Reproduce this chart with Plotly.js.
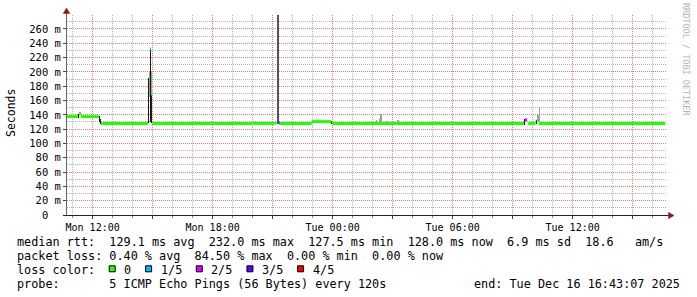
<!DOCTYPE html>
<html><head><meta charset="utf-8">
<script src="https://cdn.plot.ly/plotly-3.0.1.min.js"></script>
<style>html,body{margin:0;padding:0;background:#fff;overflow:hidden}</style>
</head><body><div id="chart" style="width:697px;height:297px"></div>
<script>
// ---------------- data ----------------
const xRange = ['2025-12-15 10:43:07', '2025-12-16 16:43:07'];

const xTickVals = ['2025-12-15 12:00','2025-12-15 15:00','2025-12-15 18:00','2025-12-15 21:00','2025-12-16 00:00',
                   '2025-12-16 03:00','2025-12-16 06:00','2025-12-16 09:00','2025-12-16 12:00','2025-12-16 15:00'];
const xTickText = ['Mon 12:00','','Mon 18:00','','Tue 00:00','','Tue 06:00','','Tue 12:00',''];

const yTickVals = [0,20,40,60,80,100,120,140,160,180,200,220,240,260];
const yTickText = ['0  ','20 m','40 m','60 m','80 m','100 m','120 m','140 m','160 m','180 m','200 m','220 m','240 m','260 m'];

// median rtt (ms), piecewise segments, with loss class (0 = 0/5 ... 4 = 4/5)
const medStart = ['2025-12-15 10:43:07','2025-12-15 11:19','2025-12-15 11:25','2025-12-15 12:25','2025-12-15 14:49',
                  '2025-12-15 14:52','2025-12-15 14:55','2025-12-15 14:59','2025-12-15 20:00','2025-12-15 21:09',
                  '2025-12-15 21:19','2025-12-15 21:22','2025-12-15 22:57','2025-12-15 23:59','2025-12-16 09:37',
                  '2025-12-16 09:46','2025-12-16 10:12','2025-12-16 10:19'];
const medEnd   = ['2025-12-15 11:16','2025-12-15 11:25','2025-12-15 12:19','2025-12-15 14:46','2025-12-15 14:52',
                  '2025-12-15 14:55','2025-12-15 14:58','2025-12-15 19:58','2025-12-15 21:09','2025-12-15 21:12',
                  '2025-12-15 21:22','2025-12-15 22:57','2025-12-15 23:56','2025-12-16 09:34','2025-12-16 09:43',
                  '2025-12-16 10:09','2025-12-16 10:18','2025-12-16 16:38'];
const medValue = [137.5,142,137.5,128,190.5,232,169,128,128,128.5,128.5,128,130.5,128,133,128,132,128];
const medLoss  = [0,0,0,0,0,1,0,0,0,1,2,0,0,0,2,0,0,0];

// smoke (spread of the pings), dark / mid / light density
const darkStart = ['2025-12-15 11:16','2025-12-15 12:19','2025-12-15 12:22','2025-12-15 14:46','2025-12-15 14:52',
                   '2025-12-15 14:56','2025-12-15 23:56','2025-12-16 09:34','2025-12-16 10:09'];
const darkEnd   = ['2025-12-15 11:19','2025-12-15 12:22','2025-12-15 12:25','2025-12-15 14:49','2025-12-15 14:55',
                   '2025-12-15 14:59','2025-12-15 23:59','2025-12-16 09:37','2025-12-16 10:12'];
const darkLow   = [136,130,127,128,130,128,127,126,127];
const darkHigh  = [141,138,134,192,233,170,131,134,133];

const midStart = ['2025-12-15 21:12'];
const midEnd   = ['2025-12-15 21:19'];
const midLow   = [127];
const midHigh  = [290];

const lightStart = ['2025-12-15 14:49','2025-12-16 02:10','2025-12-16 02:19','2025-12-16 02:22','2025-12-16 02:37',
                    '2025-12-16 03:13','2025-12-16 10:12','2025-12-16 10:18'];
const lightEnd   = ['2025-12-15 14:58','2025-12-16 02:13','2025-12-16 02:28','2025-12-16 02:28','2025-12-16 02:43',
                    '2025-12-16 03:19','2025-12-16 10:18','2025-12-16 10:21'];
const lightLow   = [165,128,128,128,128,128,132,130];
const lightHigh  = [200,133,134,141,131.5,133,140,151];

const lossLabels = ['0','1/5','2/5','3/5','4/5'];

const legendLines = [
  'median rtt:  129.1 ms avg  232.0 ms max  127.5 ms min  128.0 ms now  6.9 ms sd  18.6   am/s',
  'packet loss: 0.40 % avg  84.50 % max  0.00 % min  0.00 % now',
  'loss color:',
  'probe:       5 ICMP Echo Pings (56 Bytes) every 120s'
];
const endText = 'end: Tue Dec 16 16:43:07 2025';
const yTitle = 'Seconds';
const sideText = 'RRDTOOL / TOBI OETIKER';

// ---------------- styles ----------------
const lossColors = ['#26ff00','#00b8ff','#dd00ff','#5e00ff','#ff0000'];
const MONO = 'DejaVu Sans Mono';
const L = 67, T = 15, W = 600, H = 200;
const xp = px => (px - L) / W;
const yp = py => (T + H - py) / H;
const nb = s => s.replace(/ /g, '\u00a0');
const ms = s => Date.parse(s.replace(' ', 'T'));

// ---------------- traces ----------------
const traces = [];
function smokeTrace(st, en, lo, hi, color) {
  return {
    type: 'bar', x: st, base: lo, y: hi.map((h, i) => h - lo[i]),
    width: st.map((s, i) => ms(en[i]) - ms(s)), offset: 0,
    marker: {color: color, line: {width: 0}}, hoverinfo: 'skip', showlegend: false
  };
}
traces.push(smokeTrace(lightStart, lightEnd, lightLow, lightHigh, '#a0a0a0'));
traces.push(smokeTrace(midStart, midEnd, midLow, midHigh, '#555555'));
traces.push(smokeTrace(darkStart, darkEnd, darkLow, darkHigh, '#1a1a1a'));

for (let c = 0; c < lossColors.length; c++) {
  const xs = [], ys = [];
  medStart.forEach((s, i) => {
    if (medLoss[i] !== c) return;
    xs.push(s, medEnd[i], null);
    ys.push(medValue[i], medValue[i], null);
  });
  if (!xs.length) continue;
  traces.push({type: 'scatter', mode: 'lines', x: xs, y: ys, connectgaps: false,
    line: {color: lossColors[c], width: 3}, hoverinfo: 'skip', showlegend: false});
}

// ---------------- annotations & shapes ----------------
const annotations = [];
const shapes = [];
const lineBase = [241.6, 255.6, 269.6, 283.6];
legendLines.forEach((t, i) => {
  annotations.push({xref: 'paper', yref: 'paper', x: xp(16), y: yp(lineBase[i]), xanchor: 'left', yanchor: 'middle',
    text: nb(t), showarrow: false, borderpad: 0, font: {family: MONO, size: 11.8, color: '#000'}});
});
annotations.push({xref: 'paper', yref: 'paper', x: xp(681), y: yp(lineBase[3]), xanchor: 'right', yanchor: 'middle',
  text: nb(endText), showarrow: false, borderpad: 0, font: {family: MONO, size: 11.8, color: '#000'}});
annotations.push({xref: 'paper', yref: 'paper', x: xp(11), y: yp(113), xanchor: 'center', yanchor: 'middle',
  text: yTitle, textangle: -90, showarrow: false, borderpad: 0, font: {family: MONO, size: 11.5, color: '#000'}});
annotations.push({xref: 'paper', yref: 'paper', x: xp(686), y: yp(59), xanchor: 'center', yanchor: 'middle',
  text: nb(sideText), textangle: 90, showarrow: false, borderpad: 0, font: {family: MONO, size: 8.5, color: '#b4b4b4'}});

// loss color legend swatches
let sx = 108.7;
const adv = 7.12;
lossLabels.forEach((lab, i) => {
  shapes.push({type: 'rect', xref: 'paper', yref: 'paper', x0: xp(sx + 0.5), x1: xp(sx + 6.5), y0: yp(265.8), y1: yp(271.8),
    fillcolor: lossColors[i], line: {color: '#000', width: 1}, layer: 'above'});
  const lx = sx + 14.6;
  annotations.push({xref: 'paper', yref: 'paper', x: xp(lx), y: yp(lineBase[2]), xanchor: 'left', yanchor: 'middle',
    text: lab, showarrow: false, borderpad: 0, font: {family: MONO, size: 11.8, color: '#000'}});
  sx = lx + lab.length * adv + 14.7;
});

// axis lines and arrows
shapes.push({type: 'line', xref: 'paper', yref: 'paper', x0: xp(66.5), x1: xp(66.5), y0: yp(215.5), y1: yp(12),
  line: {color: '#666', width: 1}, layer: 'above'});
shapes.push({type: 'line', xref: 'paper', yref: 'paper', x0: xp(63), x1: xp(670), y0: yp(215.5), y1: yp(215.5),
  line: {color: '#222', width: 1}, layer: 'above'});
shapes.push({type: 'path', xref: 'paper', yref: 'paper', layer: 'above',
  path: `M ${xp(66.5)} ${yp(8)} L ${xp(69.8)} ${yp(13.5)} L ${xp(63.2)} ${yp(13.5)} Z`,
  fillcolor: '#8b1c1c', line: {color: '#8b1c1c', width: 0.5}});
shapes.push({type: 'path', xref: 'paper', yref: 'paper', layer: 'above',
  path: `M ${xp(674)} ${yp(215.5)} L ${xp(668.5)} ${yp(212.2)} L ${xp(668.5)} ${yp(218.8)} Z`,
  fillcolor: '#8b1c1c', line: {color: '#8b1c1c', width: 0.5}});

const gridMajor = '#dc8282', gridMinor = '#b4b4b4', dots = '1px,1px';
const layout = {
  width: 697, height: 297,
  margin: {l: L, r: 697 - L - W, t: T, b: 297 - T - H, pad: 0},
  paper_bgcolor: '#fff', plot_bgcolor: '#fff',
  showlegend: false, barmode: 'overlay', bargap: 0,
  font: {family: MONO, size: 10, color: '#000'},
  xaxis: {
    type: 'date', range: xRange, fixedrange: true,
    tickmode: 'array', tickvals: xTickVals, ticktext: xTickText,
    showgrid: true, gridcolor: gridMajor, griddash: dots, gridwidth: 1,
    ticks: 'outside', ticklen: 3, tickcolor: '#444', tickwidth: 1,
    showline: false, zeroline: false, tickfont: {family: MONO, size: 10, color: '#000'},
    minor: {tickmode: 'linear', tick0: '2025-12-15 00:00', dtick: 3600000, showgrid: true,
      gridcolor: gridMinor, griddash: dots, gridwidth: 1, ticks: 'outside', ticklen: 2, tickcolor: '#888'}
  },
  yaxis: {
    range: [0, 279.5], fixedrange: true,
    tickmode: 'array', tickvals: yTickVals, ticktext: yTickText.map(nb),
    showgrid: true, gridcolor: gridMajor, griddash: dots, gridwidth: 1,
    ticks: 'outside', ticklen: 3, tickcolor: '#444', tickwidth: 1,
    showline: false, zeroline: false, tickfont: {family: MONO, size: 10.5, color: '#000'},
    minor: {tickmode: 'linear', tick0: 0, dtick: 10, showgrid: true,
      gridcolor: gridMinor, griddash: dots, gridwidth: 1, ticks: ''}
  },
  annotations: annotations,
  shapes: shapes
};

Plotly.newPlot('chart', traces, layout, {staticPlot: true, displayModeBar: false});
</script>
</body></html>
